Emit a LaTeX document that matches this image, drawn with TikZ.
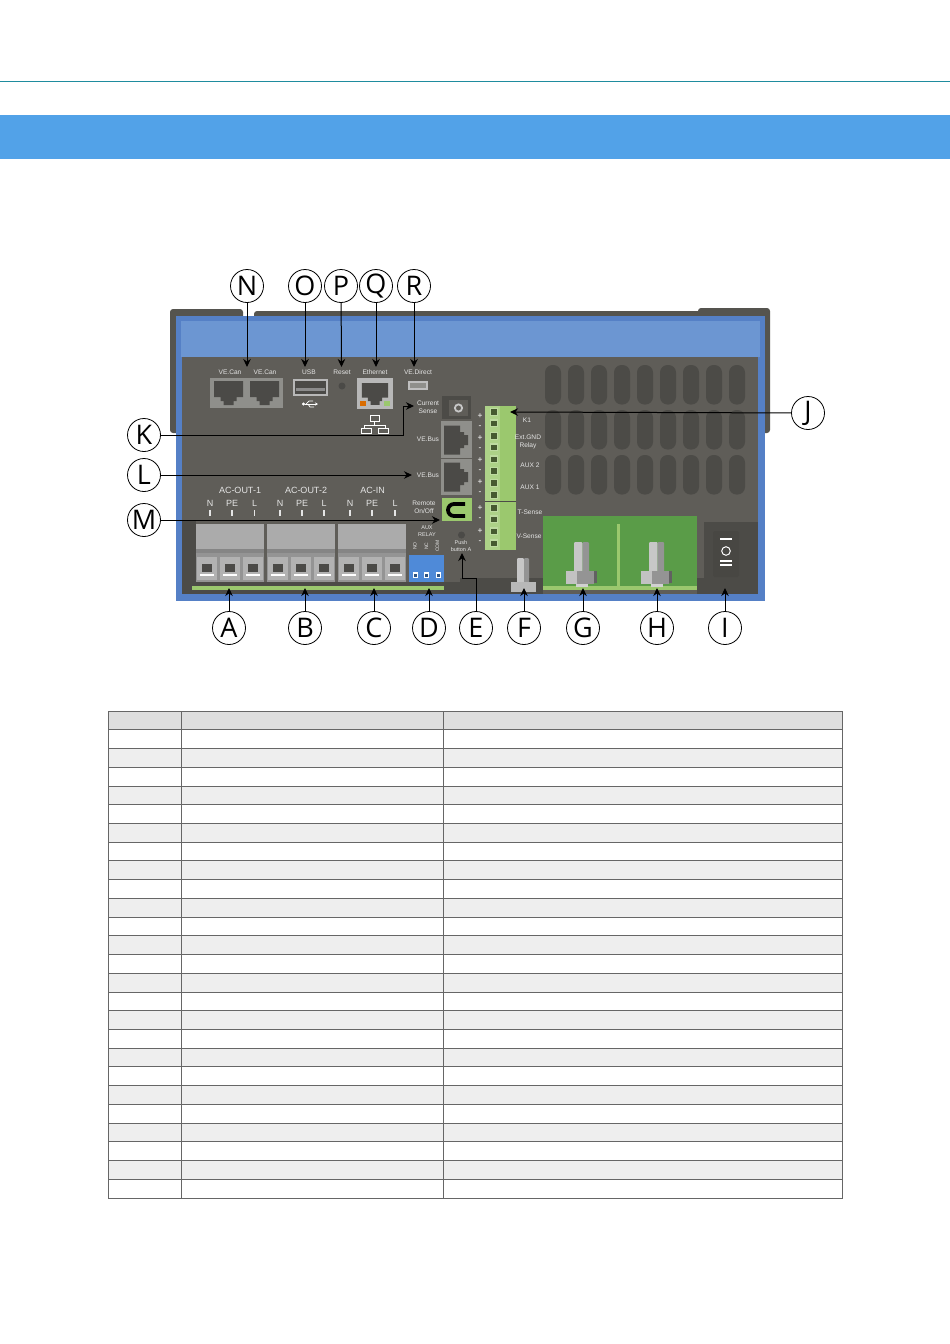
\documentclass[tikz,border=0pt]{standalone}
\usepackage{fontspec}
\setmainfont{Liberation Sans}
\newfontfamily\letterfont{Open Sans}
\usepackage{xcolor}
\usetikzlibrary{arrows.meta,shapes}
\definecolor{bandblue}{HTML}{52A2E8}
\definecolor{ruleteal}{HTML}{1F8C9E}
\definecolor{bodyblue}{HTML}{5580C6}
\definecolor{lidblue}{HTML}{6C96D2}
\definecolor{panelgray}{HTML}{5F5D58}
\definecolor{darkgray}{HTML}{4C4B47}
\definecolor{handlegray}{HTML}{55544F}
\definecolor{jackgray}{HTML}{8F8F8B}
\definecolor{plugdark}{HTML}{4B4A47}
\definecolor{palegreen}{HTML}{9BC86E}
\definecolor{busgreen}{HTML}{5A9C48}
\definecolor{relayblue}{HTML}{4F8AD8}
\definecolor{headgray}{HTML}{DEDEDE}
\definecolor{rowgray}{HTML}{EEEEEE}
\definecolor{gridgray}{HTML}{666666}
\tikzset{
callout/.style={circle,draw,fill=white,line width=0.8pt,minimum size=33pt,inner sep=0pt,font=\letterfont\fontsize{27}{27}\selectfont},
tag/.style={text=white!90!black,font=\fontsize{6.6}{7.8}\selectfont,align=center,inner sep=0pt},
sign/.style={text=white,font=\fontsize{8.5}{8.5}\selectfont,inner sep=0pt},
phase/.style={text=white!90!black,font=\fontsize{9}{9}\selectfont,inner sep=0pt},
leader/.style={->,line width=1pt},
jack/.pic={\fill[plugdark](-14.5,-12)--(14.5,-12)--(14.5,4)--(8,4)--(8,8)--(5,8)--(5,12)--(-5,12)--(-5,8)--(-8,8)--(-8,4)--(-14.5,4)--cycle;},
bolt/.pic={\fill[white!78!black,rounded corners=1pt](-7.5,-30)rectangle(1,2);
\fill[white!58!black,rounded corners=1pt](1,-30)rectangle(7.5,2);
\fill[white!82!black](-6,12)rectangle(6,15);
\fill[white!76!black](-15.5,-1)rectangle(-5,12);
\fill[white!58!black](-5,-1)rectangle(12.5,12);
\fill[white!38!black](12.5,-1)rectangle(15.5,11);}
}
\begin{document}
\begin{tikzpicture}[x=1pt,y=-1pt,>={Stealth[length=8pt,width=7.5pt]}]
\path[use as bounding box,fill=white](0,0)rectangle(950,1344);
\fill[ruleteal](0,80.6)rectangle(950,81.6);
\fill[bandblue](0,115)rectangle(950,159);
\fill[handlegray,rounded corners=3pt](170,309)rectangle(243,433);
\fill[handlegray,rounded corners=3pt](254,311)rectangle(705,330);
\fill[handlegray,rounded corners=3pt](698,308)rectangle(770,433);
\fill[bodyblue](176,316)rectangle(765,601);
\fill[lidblue](181,321)rectangle(760,357);
\fill[panelgray](182,357)rectangle(758,594);
\fill[darkgray](182,520)rectangle(196,594);
\fill[darkgray](182,582)rectangle(543,594);
\fill[darkgray](697,578)rectangle(758,594);
\fill[darkgray](460,578)rectangle(543,594);
\fill[darkgray](746,522)rectangle(758,578);
\foreach \row in {365,410,455}{
\foreach \i in {0,...,8}{
\fill[darkgray,rounded corners=7.5pt]({545+23*\i},\row)rectangle({561+23*\i},\row+39.5);
}}
\fill[jackgray](210,378)rectangle(283,408);
\path(228.5,393)pic{jack}(264.5,393)pic{jack};
\fill[white!72!black](293,379)rectangle(328,396);
\fill[plugdark](295,381)rectangle(326,394);
\fill[white!55!black](296,388)rectangle(325,391);
\draw[white,line width=0.7pt,{Circle[length=3pt]}-{Stealth[length=3pt,width=3pt]}](302,404)--(318,404);
\draw[white,line width=0.7pt](306,404)--(309,401)--(313,401)(308,404)--(310,407)--(314,407);
\fill[plugdark](342,386)circle[radius=3.5];
\fill[white!72!black](357,378)rectangle(393,409);
\path(375,394)pic[scale=0.9]{jack};
\fill[orange!85!black](360,401)rectangle(366,406);
\fill[palegreen](384,401)rectangle(390,406);
\draw[white,line width=0.8pt](370,415)rectangle(379,421)(374.5,421)--(374.5,425)(364,425)--(385,425)
(364,425)--(364,428)(385,425)--(385,428)(361,428)rectangle(371,433)(378,428)rectangle(388,433);
\fill[white!75!black](408,381)rectangle(428,390);
\fill[jackgray](410,383)rectangle(426,388);
\fill[darkgray](442,396)rectangle(471,419);
\fill[panelgray](449,400)rectangle(468,416);
\draw[white!78!black,line width=1.8pt](458.5,408)circle[radius=3.6];
\fill[jackgray](441,421)rectangle(472,458);
\fill[jackgray](441,459)rectangle(472,495);
\path(456,440)pic[rotate=90]{jack}(456,477)pic[rotate=90]{jack};
\fill[palegreen](442,498)rectangle(472,521);
\draw[black,line width=3.8pt](465,504)--(454,504)arc[start angle=-90,end angle=-270,radius=6]--(465,516);
\fill[palegreen](485,406)rectangle(516,550);
\fill[white!18!palegreen](485,406)rectangle(500,550);
\draw[darkgray,line width=0.8pt](485,501)--(516,501);
\foreach \y in {411.7,423.3,435.7,447.3,459.3,471,482.7,494.7,507.7,519.3,531.3,543.3}{
\fill[white!35!palegreen](490,\y-4)rectangle(498,\y+4);
\fill[black!55!palegreen](491,\y-2.8)rectangle(497,\y+2.8);
}
\foreach \y/\s in {415.7/+,426.7/-,438/+,449.3/-,460/+,471/-,482.3/+,493.3/-,508/+,519.3/-,531/+,542/-}{
\node[sign](pm\y)at(480,\y){\s};
}
\fill[plugdark](461.5,535)circle[radius=3.5];
\fill[relayblue](409,555)rectangle(444,582);
\foreach \x in {415,426.5,438}{
\fill[white](\x-2.5,572)rectangle(\x+2.5,578);
\fill[relayblue!60!black](\x-1.5,574)rectangle(\x+1.5,577);
}
\fill[palegreen](192,586)rectangle(444,590);
\foreach \x in {196,267,338}{
\fill[white!67!black](\x,524)rectangle(\x+67.5,549);
\fill[white!52!black](\x,549)rectangle(\x+67.5,553);
\fill[white!58!black](\x,553)rectangle(\x+67.5,582);
\foreach \d in {1,24,46.5}{
\fill[white!70!black](\x+\d,557)rectangle(\x+\d+20,580);
\fill[plugdark](\x+\d+5,564)rectangle(\x+\d+15,572);
\fill[white](\x+\d+3,574)rectangle(\x+\d+17,575.5);
}}
\foreach \x/\t in {210/N,232/PE,254.5/L,280/N,302/PE,324/L,350/N,372/PE,395/L}{
\node[phase](ph\x)at(\x,503.5){\t};
\fill[white!90!black](\x-0.7,510)rectangle(\x+0.7,516);
}
\fill[busgreen](543,516)rectangle(697,590);
\fill[palegreen](543,586)rectangle(697,590);
\fill[palegreen](616.5,524)rectangle(619.5,586);
\path(581.5,572)pic{bolt}(656.5,572)pic{bolt};
\fill[white!78!black,rounded corners=1pt](517,558)rectangle(524,583);
\fill[white!58!black,rounded corners=1pt](524,558)rectangle(529,583);
\fill[white!72!black](511,582)rectangle(536,592);
\fill[darkgray](704,522)rectangle(748,578);
\fill[handlegray!85!black,rounded corners=2pt](713,531)rectangle(739,577);
\draw[white,line width=1.2pt](720,539)--(732,539)(720,561)--(732,561)(720,565)--(732,565);
\draw[white,line width=1pt](726,551)circle[radius=4.3];
\foreach \i in {1,...,26}{
\pgfmathsetmacro{\ya}{711+18.73*(\i-1)}
\pgfmathsetmacro{\yb}{711+18.73*\i}
\pgfmathparse{\i==1?"headgray":(mod(\i,2)==0?"white":"rowgray")}
\fill[\pgfmathresult](108,\ya)rectangle(842,\yb);
}
\foreach \i in {1,...,25}{
\draw[gridgray,line width=0.8pt](108,711+18.73*\i)--(842,711+18.73*\i);
}
\draw[gridgray,line width=0.8pt](108,711)rectangle(842,1198)(181,711)--(181,1198)(443.5,711)--(443.5,1198);
\node[tag](can1)at(230,372){VE.Can};
\node[tag](can2)at(265,372){VE.Can};
\node[tag](usb)at(309,372){USB};
\node[tag](reset)at(342,372){Reset};
\node[tag](eth)at(375,372){Ethernet};
\node[tag](direct)at(418,372){VE.Direct};
\node[tag](sense)at(428,407){Current\\Sense};
\node[tag](bus1)at(428,439){VE.Bus};
\node[tag](bus2)at(428,475){VE.Bus};
\node[tag](remote)at(424,507){Remote\\On/Off};
\node[tag,font=\fontsize{5.5}{6.5}\selectfont](relay)at(427,531){AUX\\RELAY};
\node[tag,font=\fontsize{5}{5}\selectfont,rotate=90](no)at(415,546){NO};
\node[tag,font=\fontsize{5}{5}\selectfont,rotate=90](nc)at(426.5,546){NC};
\node[tag,font=\fontsize{5}{5}\selectfont,rotate=90](com)at(437.5,546){COM};
\node[tag,font=\fontsize{5.5}{6.5}\selectfont](push)at(461,546){Push\\button A};
\node[tag](k1)at(527,420.5){K1};
\node[tag](gnd)at(528,442){Ext.GND\\Relay};
\node[tag](aux2)at(530,465){AUX 2};
\node[tag](aux1)at(530,487){AUX 1};
\node[tag](tsense)at(530,512){T-Sense};
\node[tag](vsense)at(529,536){V-Sense};
\node[phase](out1)at(240,490){AC-OUT-1};
\node[phase](out2)at(306,490){AC-OUT-2};
\node[phase](acin)at(372.5,490){AC-IN};
\node[callout](N)at(247,286){N};
\node[callout](O)at(305,286){O};
\node[callout](P)at(341,286){P};
\node[callout](Q)at(376,286){Q};
\node[callout](R)at(414,286){R};
\node[callout](K)at(144,435){K};
\node[callout](L)at(144,475){L};
\node[callout](M)at(144,520){M};
\node[callout](J)at(808,413){J};
\node[callout](A)at(229,628){A};
\node[callout](B)at(305,628){B};
\node[callout](C)at(374,628){C};
\node[callout](D)at(429,628){D};
\node[callout](E)at(476,628){E};
\node[callout](F)at(524,628){F};
\node[callout](G)at(583,628){G};
\node[callout](H)at(657,628){H};
\node[callout](I)at(725,628){I};
\coordinate(toN)at(247,367);
\coordinate(toO)at(305,367);
\coordinate(toP)at(341.5,367);
\coordinate(toQ)at(376,367);
\coordinate(toR)at(414,367);
\coordinate(toK)at(414,406);
\coordinate(toL)at(412,475);
\coordinate(toM)at(440,520);
\coordinate(toJ)at(510,412);
\coordinate(toA)at(229,588);
\coordinate(toB)at(305,588);
\coordinate(toC)at(374,588);
\coordinate(toD)at(429,588);
\coordinate(toE)at(462,553);
\coordinate(toF)at(524,588);
\coordinate(toG)at(583,588);
\coordinate(toH)at(657,588);
\coordinate(toI)at(725,588);
\foreach \n in {N,O,P,Q,R,L,M,J,A,B,C,D,F,G,H,I}{
\draw[leader](\n)--(to\n);
}
\draw[leader](K)-|(403,406)--(toK);
\draw[leader](E)--(476,578)-|(toE);
\end{tikzpicture}
\end{document}
